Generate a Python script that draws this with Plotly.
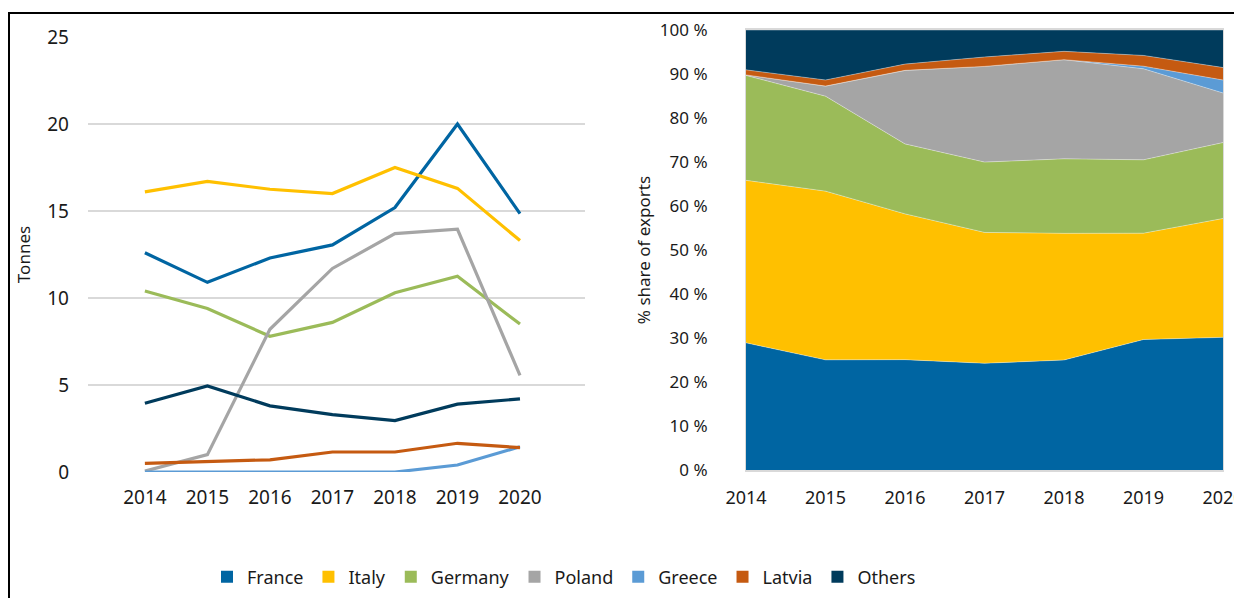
import plotly.graph_objects as go

years = [2014, 2015, 2016, 2017, 2018, 2019, 2020]

france = [12.6, 10.9, 12.3, 13.05, 15.2, 20.0, 14.85]
italy = [16.1, 16.7, 16.25, 16.0, 17.5, 16.3, 13.3]
germany = [10.4, 9.4, 7.8, 8.6, 10.3, 11.25, 8.5]
poland = [0.05, 1.0, 8.2, 11.7, 13.7, 13.95, 5.55]
greece = [0.0, 0.0, 0.0, 0.0, 0.0, 0.4, 1.45]
latvia = [0.5, 0.6, 0.7, 1.15, 1.15, 1.65, 1.4]
others = [3.95, 4.95, 3.8, 3.3, 2.95, 3.9, 4.2]

series = [
    ("France", france, "#0065A2"),
    ("Italy", italy, "#FFC000"),
    ("Germany", germany, "#9BBB59"),
    ("Poland", poland, "#A5A5A5"),
    ("Greece", greece, "#5B9BD5"),
    ("Latvia", latvia, "#C55A11"),
    ("Others", others, "#003B5C"),
]

# page body has an 8px margin, so the figure starts at (8, 8)
OFF = 8
W, H = 1242 - OFF, 598 - OFF
FONT = "Noto Sans"


def px_x(p):
    return (p - OFF) / W


def px_y(p):
    return 1 - (p - OFF) / H


fig = go.Figure()

# left: tonnes per year
for name, vals, color in series:
    fig.add_trace(go.Scatter(
        x=years, y=vals, mode="lines", name=name, showlegend=False,
        line=dict(color=color, width=3.2), xaxis="x", yaxis="y",
    ))

# right: share of exports (100 % stacked)
for name, vals, color in series:
    fig.add_trace(go.Scatter(
        x=years, y=vals, mode="lines", name=name, showlegend=False,
        stackgroup="share", groupnorm="percent",
        line=dict(color="rgba(255,255,255,0.6)", width=0.6),
        fillcolor=color, xaxis="x2", yaxis="y2",
    ))

# legend entries with square markers
for name, vals, color in series:
    fig.add_trace(go.Scatter(
        x=[None], y=[None], mode="markers", name=name,
        marker=dict(symbol="square", size=12, color=color),
        xaxis="x", yaxis="y",
    ))

fig.update_layout(
    width=W, height=H,
    margin=dict(l=0, r=0, t=0, b=0),
    paper_bgcolor="white", plot_bgcolor="white",
    font=dict(family=FONT, size=18, color="#1a1a1a"),
    xaxis=dict(
        domain=[px_x(88), px_x(585)], range=[2013.09, 2021.04],
        tickvals=years, showgrid=False, zeroline=False, showline=False,
        ticks="", automargin=False, tickfont=dict(size=19),
        ticklabelstandoff=12,
    ),
    yaxis=dict(
        domain=[px_y(472), px_y(37)], range=[0, 25], dtick=5,
        showgrid=True, gridcolor="#D9D9D9", gridwidth=1.5,
        zeroline=False, showline=False, ticks="", automargin=False,
        tickfont=dict(size=19), ticklabelstandoff=18,
        title=dict(text="Tonnes", font=dict(size=17), standoff=12),
    ),
    xaxis2=dict(
        domain=[px_x(746), px_x(1223)], range=[2014, 2020], anchor="y2",
        tickvals=years, showgrid=False, zeroline=False,
        showline=True, linecolor="#D9D9D9", linewidth=1.5, mirror=True,
        ticks="", automargin=False, tickfont=dict(size=18),
        ticklabelstandoff=11, ticklabeloverflow="allow",
    ),
    yaxis2=dict(
        domain=[px_y(470), px_y(30)], range=[0, 100], dtick=10,
        anchor="x2", ticksuffix=" %", showgrid=False, zeroline=False,
        showline=True, linecolor="#D9D9D9", linewidth=1, mirror=True,
        ticks="", automargin=False, tickfont=dict(size=17),
        ticklabelstandoff=34,
        title=dict(text="% share of exports", font=dict(size=17), standoff=4),
    ),
    legend=dict(
        orientation="h", x=px_x(564), xanchor="center", y=px_y(577),
        yanchor="middle", font=dict(size=18), itemwidth=30,
        traceorder="normal", tracegroupgap=0, bgcolor="rgba(0,0,0,0)",
    ),
    shapes=[
        dict(type="line", xref="paper", yref="paper",
             x0=px_x(8), x1=1.0, y0=px_y(13), y1=px_y(13),
             line=dict(color="black", width=2)),
        dict(type="line", xref="paper", yref="paper",
             x0=px_x(9), x1=px_x(9), y0=0, y1=px_y(13),
             line=dict(color="black", width=2)),
    ],
)

fig.write_html("out.html")
